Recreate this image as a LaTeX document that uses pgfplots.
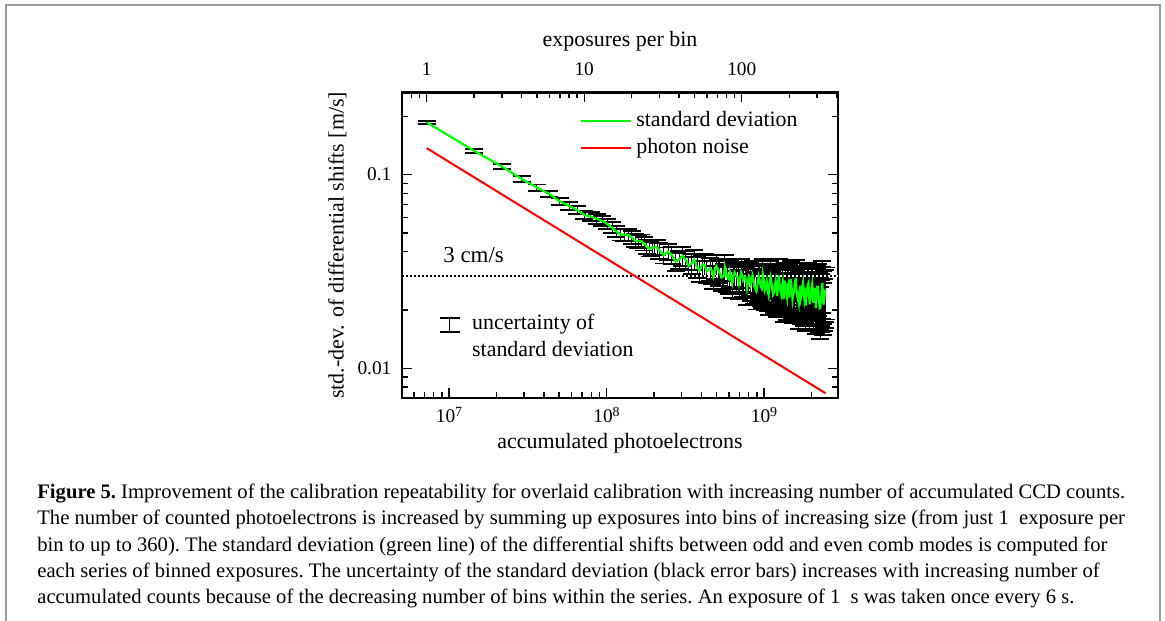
\documentclass[border=0pt]{standalone}
\usepackage{fontspec}
\setmainfont{Liberation Serif}
\usepackage{pgfplots}
\usepackage{pgfplotstable}
\pgfplotsset{compat=1.18}

\definecolor{sdgreen}{HTML}{00FF00}
\definecolor{pnred}{HTML}{FF0000}
\definecolor{framegray}{HTML}{9A9A9A}

\newcommand\tfont{\fontsize{9.7}{11}\selectfont}
\newcommand\lfont{\fontsize{11}{13}\selectfont}
\newcommand\cfont{\fontsize{10.35}{13}\selectfont\frenchspacing}
\newcommand\dec[1]{10\raisebox{0.3em}{\fontsize{7}{7}\selectfont #1}}

% n = exposures per bin, s = std. dev. of differential shifts [m/s], r = relative uncertainty
\pgfplotstableread{
n s r
1 0.1863 0.0167
2 0.1327 0.0236
3 0.1102 0.0289
4 0.0951 0.0334
5 0.0857 0.0373
6 0.0795 0.0409
7 0.0727 0.0442
8 0.0691 0.0472
9 0.0656 0.0501
10 0.0620 0.0529
11 0.0607 0.0556
12 0.0591 0.0579
13 0.0576 0.0604
14 0.0558 0.0627
15 0.0532 0.0648
16 0.0508 0.0671
17 0.0491 0.0693
18 0.0490 0.0711
19 0.0489 0.0733
20 0.0475 0.0750
21 0.0456 0.0772
22 0.0453 0.0791
23 0.0454 0.0806
24 0.0442 0.0822
25 0.0423 0.0839
26 0.0413 0.0857
27 0.0420 0.0877
28 0.0422 0.0891
29 0.0421 0.0905
30 0.0405 0.0921
32 0.0384 0.0953
34 0.0400 0.0990
36 0.0384 0.101
38 0.0355 0.104
40 0.0364 0.107
42 0.0380 0.110
44 0.0364 0.113
46 0.0338 0.115
48 0.0348 0.118
50 0.0365 0.120
52 0.0333 0.123
54 0.0319 0.125
56 0.0343 0.127
58 0.0343 0.129
60 0.0317 0.131
63 0.0328 0.136
65 0.0315 0.139
66 0.0297 0.139
69 0.0337 0.141
71 0.0322 0.144
72 0.0312 0.144
75 0.0294 0.147
77 0.0301 0.151
78 0.0334 0.151
81 0.0294 0.154
83 0.0288 0.158
84 0.0313 0.158
87 0.0274 0.162
89 0.0305 0.162
90 0.0314 0.162
93 0.0297 0.167
95 0.0290 0.171
96 0.0274 0.171
99 0.0313 0.171
101 0.0301 0.177
102 0.0285 0.177
105 0.0296 0.177
107 0.0281 0.183
108 0.0259 0.183
111 0.0298 0.183
113 0.0290 0.189
114 0.0274 0.189
117 0.0301 0.189
119 0.0283 0.189
120 0.0265 0.189
124 0.0250 0.196
126 0.0271 0.196
128 0.0298 0.196
130 0.0283 0.204
132 0.0264 0.204
134 0.0258 0.204
136 0.0306 0.204
138 0.0287 0.204
140 0.0253 0.210
142 0.0262 0.210
144 0.0279 0.210
146 0.0251 0.210
148 0.0238 0.210
150 0.0274 0.215
152 0.0296 0.215
154 0.0281 0.215
156 0.0259 0.215
158 0.0240 0.215
160 0.0245 0.215
162 0.0268 0.220
164 0.0282 0.220
166 0.0255 0.220
168 0.0236 0.220
170 0.0276 0.220
172 0.0301 0.220
174 0.0262 0.220
176 0.0250 0.220
178 0.0241 0.220
180 0.0265 0.220
182 0.0279 0.235
184 0.0227 0.235
186 0.0250 0.235
188 0.0283 0.235
190 0.0262 0.235
192 0.0242 0.235
194 0.0231 0.235
196 0.0269 0.235
198 0.0276 0.235
200 0.0232 0.235
205 0.0288 0.240
207 0.0262 0.240
210 0.0226 0.240
212 0.0240 0.240
215 0.0248 0.240
217 0.0271 0.240
220 0.0293 0.240
222 0.0258 0.240
225 0.0235 0.240
227 0.0229 0.240
230 0.0216 0.265
232 0.0248 0.265
235 0.0266 0.265
237 0.0229 0.265
240 0.0240 0.265
242 0.0262 0.265
245 0.0277 0.265
247 0.0249 0.265
250 0.0226 0.265
252 0.0237 0.265
255 0.0211 0.265
257 0.0231 0.265
260 0.0255 0.270
262 0.0268 0.270
265 0.0275 0.270
267 0.0242 0.270
270 0.0214 0.270
272 0.0228 0.270
275 0.0232 0.270
277 0.0259 0.270
280 0.0273 0.270
282 0.0246 0.270
285 0.0218 0.270
287 0.0229 0.270
290 0.0241 0.270
292 0.0260 0.270
295 0.0205 0.270
297 0.0226 0.270
300 0.0267 0.270
302 0.0251 0.300
305 0.0267 0.300
307 0.0240 0.300
310 0.0219 0.300
312 0.0228 0.300
315 0.0202 0.300
317 0.0219 0.300
320 0.0236 0.300
322 0.0257 0.300
325 0.0276 0.300
327 0.0243 0.300
330 0.0213 0.300
332 0.0222 0.300
335 0.0230 0.300
337 0.0247 0.300
340 0.0255 0.300
}\binned

\begin{document}
\begin{tikzpicture}
\useasboundingbox (0,0) rectangle (582.5bp,310.5bp);
\draw[framegray, line width=1bp] (3bp,0) -- (3bp,308bp) -- (580bp,308bp) -- (580bp,0);

% bottom scale: accumulated photoelectrons
\begin{axis}[
  at={(201bp,111.5bp)}, anchor=south west,
  scale only axis, width=218bp, height=152.75bp,
  xmode=log, ymode=log, ymin=0.00702, ymax=0.2655,
  xmin=5.03e6, xmax=2.95e9,
  axis line style={line width=1.1bp},
  tick style={black, line width=0.7bp},
  major tick length=5bp, minor tick length=3bp,
  tick align=inside,
  ticklabel style={font=\tfont},
  xtick pos=bottom, xticklabel pos=bottom,
  xtick={1e7,1e8,1e9}, xticklabels={\dec{7},\dec{8},\dec{9}},
  minor xtick={6e6,7e6,8e6,9e6,2e7,3e7,4e7,5e7,6e7,7e7,8e7,9e7,2e8,3e8,4e8,5e8,6e8,7e8,8e8,9e8,2e9},
  xticklabel shift=1.1bp,
  ytick=\empty,
  xlabel={accumulated photoelectrons},
  xlabel style={font=\lfont, at={(axis description cs:0.5,-0.164)}, anchor=base},
]
\addplot[draw=none, forget plot] coordinates {(1e7,0.05)};
\end{axis}

% top scale: exposures per bin, carries the data
\begin{axis}[
  at={(201bp,111.5bp)}, anchor=south west,
  scale only axis, width=218bp, height=152.75bp,
  xmode=log, ymode=log, ymin=0.00702, ymax=0.2655,
  xmin=0.697, xmax=408,
  axis line style={line width=1.1bp},
  tick style={black, line width=0.7bp},
  major tick length=5bp, minor tick length=3bp,
  tick align=inside,
  ticklabel style={font=\tfont},
  xtick pos=top, xticklabel pos=top,
  xtick={1,10,100}, xticklabels={1,10,100},
  minor xtick={0.7,0.8,0.9,2,3,4,5,6,7,8,9,20,30,40,50,60,70,80,90,200,300,400},
  xticklabel shift=5bp,
  ytick pos=both, yticklabel pos=left,
  ytick={0.01,0.1}, yticklabels={0.01,0.1},
  minor ytick={0.008,0.009,0.02,0.03,0.04,0.05,0.06,0.07,0.08,0.09,0.2},
  yticklabel shift=1.8bp,
  xlabel={exposures per bin},
  xlabel style={font=\lfont, at={(axis description cs:0.5,1.150)}, anchor=base},
  ylabel={std.-dev. of differential shifts [m/s]},
  ylabel style={font=\lfont, at={(axis description cs:-0.148,0.5)}, anchor=center},
  legend style={at={(axis description cs:0.4076,0.9525)}, anchor=north west,
    draw=none, fill=none, inner sep=0pt, column sep=0.5bp, row sep=0pt, font=\lfont,
    nodes={inner sep=1.5bp, text height=8bp, text depth=2.5bp}},
  legend cell align=left,
  legend image code/.code={\draw[#1] (0bp,0bp) -- (25bp,0bp);},
]
\addplot[black, line width=0.3bp, mark=none, forget plot,
  error bars/.cd, y dir=both, y explicit relative,
  error bar style={line width=0.45bp, black},
  error mark options={black, rotate=90, line width=0.95bp, mark size=4.5bp}]
  table[x=n, y=s, y error=r] {\binned};
\addplot[white, line width=1bp, forget plot] coordinates {(0.697,0.03) (408,0.03)};
\addplot[black, line width=1bp, dash pattern=on 1.1bp off 0.9bp, forget plot] coordinates {(0.697,0.03) (408,0.03)};
\addplot[sdgreen, line width=1.1bp] table[x=n, y=s] {\binned};
\addlegendentry{standard deviation}
\addplot[pnred, line width=1bp] coordinates {(1,0.137) (340,0.00743)};
\addlegendentry{photon noise}

\node[anchor=base west, font=\fontsize{11.5}{13}\selectfont, inner sep=0pt] at (axis description cs:0.094,0.442) {3 cm/s};

\draw[line width=0.8bp] (axis description cs:0.087,0.262) -- (axis description cs:0.133,0.262);
\draw[line width=0.8bp] (axis description cs:0.087,0.216) -- (axis description cs:0.133,0.216);
\draw[line width=0.5bp] (axis description cs:0.110,0.262) -- (axis description cs:0.110,0.216);
\node[anchor=base west, font=\lfont, inner sep=0pt] at (axis description cs:0.160,0.225) {uncertainty of};
\node[anchor=base west, font=\lfont, inner sep=0pt] at (axis description cs:0.160,0.135) {standard deviation};
\end{axis}

% caption
\begin{scope}[every node/.style={anchor=base west, inner sep=0pt, font=\cfont}]
\node at (18.5bp,61bp) {\textbf{Figure 5.} Improvement of the calibration repeatability for overlaid calibration with increasing number of accumulated CCD counts.};
\node at (18.5bp,48bp) {The number of counted photoelectrons is increased by summing up exposures into bins of increasing size (from just 1\enspace exposure per};
\node at (18.5bp,35bp) {bin to up to 360). The standard deviation (green line) of the differential shifts between odd and even comb modes is computed for};
\node at (18.5bp,22bp) {each series of binned exposures. The uncertainty of the standard deviation (black error bars) increases with increasing number of};
\node at (18.5bp,9bp) {accumulated counts because of the decreasing number of bins within the series. An exposure of 1\enspace s was taken once every 6~s.};
\end{scope}
\end{tikzpicture}
\end{document}
